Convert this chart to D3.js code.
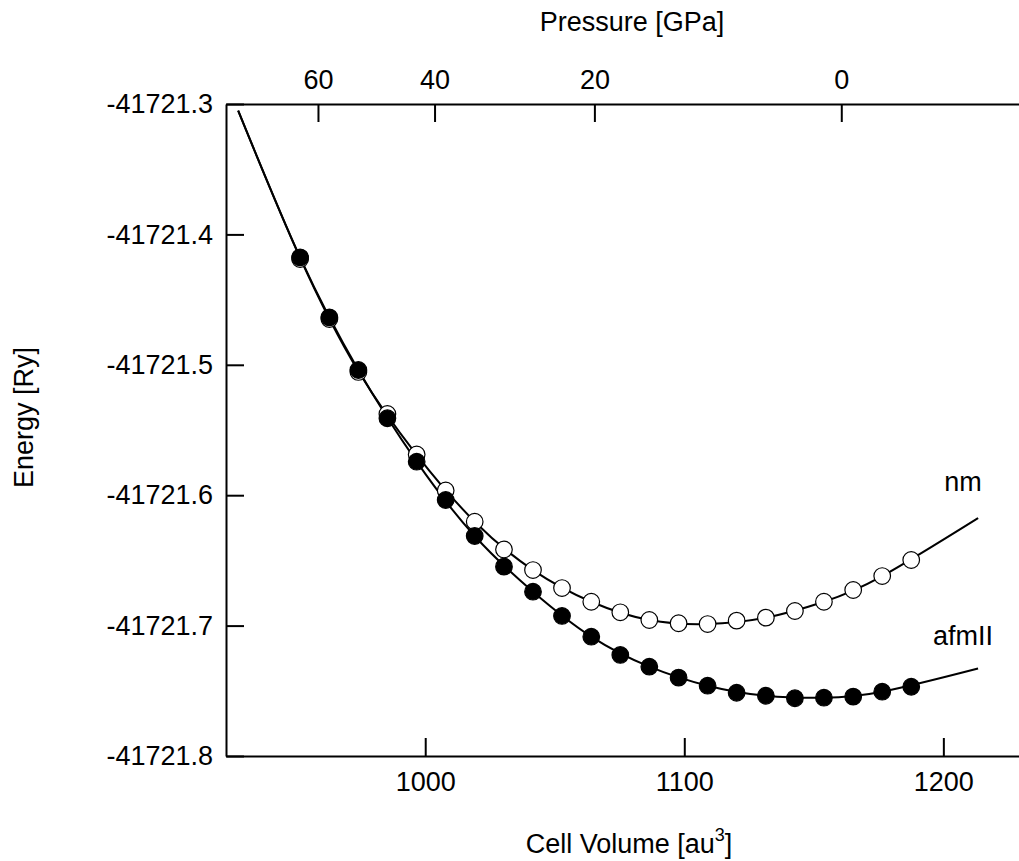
<!DOCTYPE html>
<html>
<head>
<meta charset="utf-8">
<script src="https://cdn.jsdelivr.net/npm/d3@7"></script>
<style>
  body { margin: 0; background: #fff; }
  text { font-family: "Liberation Sans", Arial, Helvetica, sans-serif; fill: #000; }
</style>
</head>
<body>
<svg id="chart" width="1019" height="861"></svg>
<script>
// computed points (cell volume in au^3, energy in Ry)
const volumes = [951.7, 963.0, 974.2, 985.4, 996.7, 1007.9, 1019.1, 1030.4, 1041.6, 1052.8, 1064.1,
                 1075.3, 1086.5, 1097.8, 1109.0, 1120.2, 1131.5, 1142.7, 1153.9, 1165.2, 1176.4, 1187.6];
const nmEnergy = [-41721.4189, -41721.4649, -41721.5055, -41721.5377, -41721.5688, -41721.5964,
                  -41721.6203, -41721.6416, -41721.6574, -41721.6712, -41721.6817, -41721.6898,
                  -41721.6957, -41721.6982, -41721.6988, -41721.6962, -41721.6939, -41721.6888,
                  -41721.6817, -41721.6727, -41721.6620, -41721.6497];
const afmEnergy = [-41721.4176, -41721.4636, -41721.5040, -41721.5410, -41721.5743, -41721.6037,
                   -41721.6313, -41721.6548, -41721.6740, -41721.6926, -41721.7085, -41721.7225,
                   -41721.7315, -41721.7399, -41721.7461, -41721.7515, -41721.7538, -41721.7557,
                   -41721.7553, -41721.7545, -41721.7507, -41721.7469];

// fitted curves
const fitVolumes = [927.8, 951.7, 974.2, 996.7, 1019.1, 1041.6, 1064.1, 1086.5, 1109.0, 1131.5, 1153.9, 1176.4, 1213.4];
const nmFit = [-41721.3051, -41721.4180, -41721.5050, -41721.5690, -41721.6203, -41721.6574, -41721.6817,
               -41721.6957, -41721.6988, -41721.6939, -41721.6817, -41721.6620, -41721.6175];
const afmFit = [-41721.3051, -41721.4176, -41721.5040, -41721.5743, -41721.6313, -41721.6740, -41721.7085,
                -41721.7315, -41721.7461, -41721.7538, -41721.7553, -41721.7507, -41721.7329];

const energyTicks = [-41721.3, -41721.4, -41721.5, -41721.6, -41721.7, -41721.8];
const volumeTicks = [1000, 1100, 1200];
const pressureLabels = [60, 40, 20, 0];
const pressureAtVolume = [958.6, 1003.6, 1065.3, 1160.6];

const svg = d3.select("#chart");
const fs = 27;

const x = d3.scaleLinear().domain([923.1, 1229.2]).range([226, 1019]);
const y = d3.scaleLinear().domain([-41721.3, -41721.8]).range([104, 756]);

function styleAxis(g) {
    g.attr("font-size", fs).attr("font-family", null);
    g.select(".domain").attr("stroke", "#000").attr("stroke-width", 2);
    g.selectAll(".tick line").attr("stroke", "#000").attr("stroke-width", 2);
    g.selectAll(".tick text").attr("fill", "#000");
}

//left axis
svg.append("g")
    .attr("transform", `translate(${x.range()[0]},0)`)
    .call(d3.axisLeft(y).tickValues(energyTicks).tickFormat(d => d.toFixed(1))
        .tickSize(-18).tickSizeOuter(0).tickPadding(13))
    .call(styleAxis);

//bottom axis
svg.append("g")
    .attr("transform", `translate(0,${y.range()[1]})`)
    .call(d3.axisBottom(x).tickValues(volumeTicks).tickFormat(d3.format("d"))
        .tickSize(-18).tickSizeOuter(0).tickPadding(16))
    .call(styleAxis);

//top axis, pressure
svg.append("g")
    .attr("transform", `translate(0,${y.range()[0]})`)
    .call(d3.axisTop(x).tickValues(pressureAtVolume).tickFormat((d, i) => pressureLabels[i])
        .tickSize(-18).tickSizeOuter(0).tickPadding(15))
    .call(styleAxis);

// titles
svg.append("text")
    .attr("x", 632).attr("y", 31)
    .attr("text-anchor", "middle").attr("font-size", fs)
    .text("Pressure [GPa]");

let xt = svg.append("text")
    .attr("x", 629).attr("y", 853)
    .attr("text-anchor", "middle").attr("font-size", fs);
xt.append("tspan").text("Cell Volume [au");
xt.append("tspan").attr("font-size", 18).attr("dy", -12).text("3");
xt.append("tspan").attr("dy", 12).text("]");

svg.append("text")
    .attr("transform", "translate(33,488) rotate(-90)")
    .attr("font-size", fs)
    .text("Energy [Ry]");

// fitted curves
const line = d3.line()
    .x((d, i) => x(fitVolumes[i]))
    .y(d => y(d))
    .curve(d3.curveNatural);

svg.append("path").datum(nmFit)
    .attr("d", line).attr("fill", "none").attr("stroke", "#000").attr("stroke-width", 2);
svg.append("path").datum(afmFit)
    .attr("d", line).attr("fill", "none").attr("stroke", "#000").attr("stroke-width", 2);

// open circles for nm, filled for afmII
svg.append("g").selectAll("circle")
    .data(nmEnergy)
  .join("circle")
    .attr("cx", (d, i) => x(volumes[i]))
    .attr("cy", d => y(d))
    .attr("r", 8.3)
    .attr("fill", "#fff").attr("stroke", "#000").attr("stroke-width", 1.2);

svg.append("g").selectAll("circle")
    .data(afmEnergy)
  .join("circle")
    .attr("cx", (d, i) => x(volumes[i]))
    .attr("cy", d => y(d))
    .attr("r", 8.3)
    .attr("fill", "#000").attr("stroke", "#000").attr("stroke-width", 1.2);

// curve labels
svg.append("text").attr("x", 963).attr("y", 491)
    .attr("text-anchor", "middle").attr("font-size", fs).text("nm");
svg.append("text").attr("x", 963).attr("y", 645)
    .attr("text-anchor", "middle").attr("font-size", fs).text("afmII");
</script>
</body>
</html>
